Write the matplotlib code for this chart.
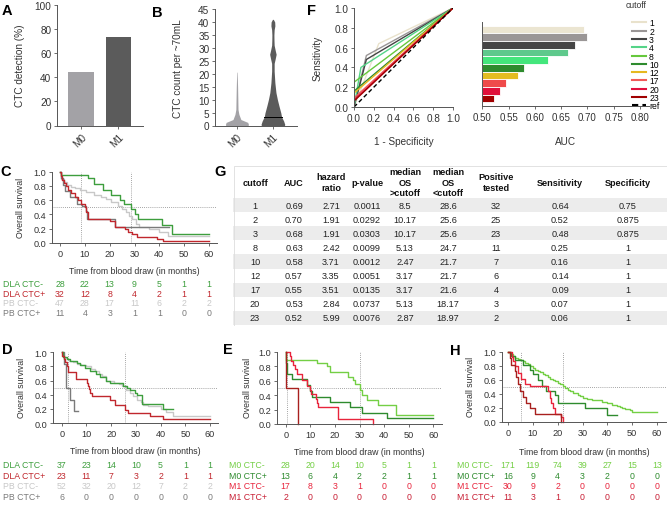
import numpy as np
import matplotlib
matplotlib.use('Agg')
import matplotlib.pyplot as plt
from matplotlib import transforms
from matplotlib.lines import Line2D

plt.rcParams['font.family'] = ['Liberation Sans', 'DejaVu Sans']
plt.rcParams['font.size'] = 6.2

## data
groups = ['M0', 'M1']
detect_pct = [44.4, 73.7]

# violin profiles (count level, half width)
m0_levels = [0, 0.4, 1.2, 2.3, 4.3, 6.2, 10, 15, 20.6]
m0_half = [0.31, 0.32, 0.30, 0.11, 0.055, 0.03, 0.025, 0.018, 0.006]
m1_levels = [0, 0.4, 1.7, 3.4, 4.9, 7.5, 10, 12.7, 16.5, 21, 24, 25.5, 27.5, 29, 31, 33, 35, 37, 38.5, 40, 41]
m1_half = [0.32, 0.33, 0.30, 0.24, 0.22, 0.17, 0.125, 0.085, 0.055, 0.035, 0.035, 0.06, 0.09, 0.065, 0.035, 0.03, 0.028, 0.035, 0.055, 0.05, 0.012]
m1_median = 3.4

cutoffs = ['1', '2', '3', '4', '8', '10', '12', '17', '20', '23']
sens = [0.64, 0.52, 0.48, 0.40, 0.25, 0.16, 0.14, 0.09, 0.07, 0.06]
spec = [0.75, 0.875, 0.875, 0.93, 1, 1, 1, 1, 1, 1]
auc = [0.693, 0.700, 0.677, 0.663, 0.625, 0.580, 0.568, 0.546, 0.534, 0.523]
roc_colors = ['#e9e2cc', '#9a9696', '#444444', '#55d488', '#66c83c', '#2e8b2e',
              '#e6b820', '#f05a5a', '#e0103c', '#a00000']
bar_colors = ['#ebe5d1', '#9a9696', '#454545', '#5ec98c', '#44e67c', '#2e8b2e',
              '#e3bc22', '#ef4a4a', '#e0103a', '#a00000']

tbl_head = ['cutoff', 'AUC', 'hazard\nratio', 'p-value', 'median\nOS\n>cutoff',
            'median\nOS\n<cutoff', 'Positive\ntested', 'Sensitivity', 'Specificity']
tbl_cutoff = ['1', '2', '3', '8', '10', '12', '17', '20', '23']
tbl_auc = ['0.69', '0.70', '0.68', '0.63', '0.58', '0.57', '0.55', '0.53', '0.52']
tbl_hr = ['2.71', '1.91', '1.91', '2.42', '3.71', '3.35', '3.51', '2.84', '5.99']
tbl_p = ['0.0011', '0.0292', '0.0303', '0.0099', '0.0012', '0.0051', '0.0135', '0.0737', '0.0076']
tbl_os_gt = ['8.5', '10.17', '10.17', '5.13', '2.47', '3.17', '3.17', '5.13', '2.87']
tbl_os_lt = ['28.6', '25.6', '25.6', '24.7', '21.7', '21.7', '21.6', '18.17', '18.97']
tbl_pos = ['32', '25', '23', '11', '7', '6', '4', '3', '2']
tbl_sens = ['0.64', '0.52', '0.48', '0.25', '0.16', '0.14', '0.09', '0.07', '0.06']
tbl_spec = ['0.75', '0.875', '0.875', '1', '1', '1', '1', '1', '1']

# Kaplan-Meier curves (time in months, survival)
c_dla_neg_t = [0, 0.5, 11.4, 13.7, 17.2, 20.5, 24, 25.8, 28.6, 30.2, 31.5, 41, 45, 60]
c_dla_neg_s = [1.0, 0.96, 0.91, 0.83, 0.75, 0.68, 0.61, 0.54, 0.47, 0.40, 0.33, 0.25, 0.13, 0.13]
c_dla_pos_t = [0, 0.3, 0.8, 1.5, 2.3, 3.3, 4.5, 6, 7.3, 8.5, 10, 10.5, 11.2, 20, 22, 26, 27.5, 29, 31, 39, 41.6, 60]
c_dla_pos_s = [1, 0.94, 0.88, 0.84, 0.80, 0.75, 0.70, 0.65, 0.60, 0.55, 0.50, 0.44, 0.34, 0.31, 0.22, 0.19, 0.16, 0.12, 0.09, 0.06, 0.03, 0.03]
c_pb_neg_t = [0, 0.5, 1.5, 3, 4.5, 6, 8, 10.5, 13.5, 16.5, 18.5, 20.5, 23.5, 25, 26.5, 27.8, 29, 30.5, 32, 36, 40, 43.5, 60]
c_pb_neg_s = [1, 0.9, 0.86, 0.82, 0.79, 0.77, 0.74, 0.72, 0.68, 0.65, 0.62, 0.57, 0.52, 0.48, 0.44, 0.38, 0.33, 0.27, 0.22, 0.2, 0.16, 0.1, 0.1]
c_pb_pos_t = [0, 0.6, 1.3, 2.2, 4, 6.7, 8.7, 10.3, 11, 22, 44]
c_pb_pos_s = [1, 0.91, 0.82, 0.73, 0.64, 0.55, 0.52, 0.45, 0.34, 0.22, 0.22]

d_dla_neg_t = [0, 0.7, 2, 3.4, 6, 7.4, 9.4, 11.5, 14, 15.5, 18, 19.5, 25, 26.3, 27.6, 29.6, 30.3, 32.3, 41, 45]
d_dla_neg_s = [1, 0.94, 0.91, 0.88, 0.85, 0.82, 0.78, 0.74, 0.70, 0.65, 0.60, 0.57, 0.52, 0.49, 0.47, 0.43, 0.40, 0.27, 0.20, 0.20]
d_dla_pos_t = [0, 0.3, 0.8, 1.5, 2.2, 2.7, 5.8, 10.2, 10.6, 11, 11.5, 12.1, 19.5, 21.6, 25.6, 27, 35.7, 41, 60]
d_dla_pos_s = [1, 0.95, 0.9, 0.86, 0.81, 0.72, 0.62, 0.57, 0.52, 0.48, 0.43, 0.38, 0.33, 0.25, 0.19, 0.14, 0.10, 0.05, 0.05]
d_pb_neg_t = [0, 0.5, 1, 2, 3, 4.5, 6, 8, 10, 12, 13.5, 15, 16.5, 18, 21, 23, 24.5, 26, 27.5, 29, 30.5, 32, 33, 35, 40, 42, 45, 60]
d_pb_neg_s = [1, 0.96, 0.92, 0.9, 0.88, 0.86, 0.84, 0.82, 0.80, 0.77, 0.74, 0.70, 0.66, 0.6, 0.57, 0.55, 0.52, 0.46, 0.42, 0.38, 0.33, 0.30, 0.26, 0.24, 0.2, 0.15, 0.1, 0.1]
d_pb_pos_t = [0, 1, 1.7, 3.4, 5, 6.7]
d_pb_pos_s = [1, 0.83, 0.5, 0.33, 0.17, 0.17]

e_m0_neg_t = [0, 0.3, 12.9, 16.7, 18, 25.5, 27.5, 28.2, 30, 30.9, 32.9, 37.7, 45, 60]
e_m0_neg_s = [1, 0.89, 0.85, 0.81, 0.72, 0.65, 0.61, 0.55, 0.47, 0.40, 0.33, 0.27, 0.13, 0.13]
e_m0_pos_t = [0, 0.2, 0.7, 2.4, 8.5, 9.9, 10.6, 18, 26.2, 30.9, 41, 60]
e_m0_pos_s = [1, 0.85, 0.69, 0.62, 0.54, 0.46, 0.38, 0.31, 0.23, 0.15, 0.08, 0.08]
e_m1_neg_t = [0, 1.8, 2.2, 3, 3.9, 4.5, 6.5, 8.5, 9.9, 10.3, 12.3, 12.6, 13.3, 21.4, 35.6]
e_m1_neg_s = [1, 0.94, 0.88, 0.82, 0.76, 0.70, 0.61, 0.53, 0.47, 0.41, 0.35, 0.29, 0.24, 0.07, 0.0]
e_m1_pos_t = [0, 0.2, 4.9]
e_m1_pos_s = [1, 0.5, 0.0]

h_m0_neg_t = [0, 1, 2, 3, 4, 5, 6, 7, 8, 9, 10, 11, 12, 13, 14, 15, 16, 17, 18, 19, 20, 21, 22, 23, 24,
              25, 26, 27, 28, 29, 30, 32, 34, 36, 38, 40, 42, 44, 45, 46, 47, 48, 49, 50, 60]
h_m0_neg_s = [1, 0.97, 0.94, 0.92, 0.90, 0.89, 0.87, 0.85, 0.83, 0.80, 0.77, 0.75, 0.73, 0.71, 0.69, 0.67, 0.64,
              0.62, 0.60, 0.58, 0.56, 0.54, 0.51, 0.49, 0.46, 0.44, 0.42, 0.41, 0.39, 0.37, 0.35, 0.33, 0.32,
              0.31, 0.29, 0.27, 0.25, 0.23, 0.21, 0.20, 0.19, 0.18, 0.17, 0.15, 0.15]
h_m0_pos_t = [0, 1.3, 2.7, 6, 8.7, 10, 12.1, 13.5, 15.5, 18.8, 20.2, 31, 39.7, 43.7]
h_m0_pos_s = [1, 0.94, 0.88, 0.81, 0.75, 0.69, 0.60, 0.52, 0.45, 0.38, 0.27, 0.20, 0.10, 0.10]
h_m1_neg_t = [0, 1.7, 2, 2.7, 4, 5.4, 6.7, 8.7, 16.2, 16.8, 17.5, 18.2, 18.8, 21.5, 22.2]
h_m1_neg_s = [1, 0.93, 0.87, 0.80, 0.70, 0.62, 0.55, 0.52, 0.45, 0.35, 0.27, 0.20, 0.12, 0.07, 0.0]
h_m1_pos_t = [0, 0.7, 1.3, 2.7, 3.4, 4.0, 4.7, 6.0, 7.4, 9, 10.8, 21.5]
h_m1_pos_s = [1, 0.91, 0.82, 0.73, 0.64, 0.55, 0.45, 0.36, 0.27, 0.2, 0.11, 0.0]

# numbers at risk at 0,10,...,60 months
c_risk = {'DLA CTC-': [28, 22, 13, 9, 5, 1, 1], 'DLA CTC+': [32, 12, 8, 4, 2, 1, 1],
          'PB CTC-': [47, 28, 17, 11, 6, 2, 2], 'PB CTC+': [11, 4, 3, 1, 1, 0, 0]}
d_risk = {'DLA CTC-': [37, 23, 14, 10, 5, 1, 1], 'DLA CTC+': [23, 11, 7, 3, 2, 1, 1],
          'PB CTC-': [52, 32, 20, 12, 7, 2, 2], 'PB CTC+': [6, 0, 0, 0, 0, 0, 0]}
e_risk = {'M0 CTC-': [28, 20, 14, 10, 5, 1, 1], 'M0 CTC+': [13, 6, 4, 2, 2, 1, 1],
          'M1 CTC-': [17, 8, 3, 1, 0, 0, 0], 'M1 CTC+': [2, 0, 0, 0, 0, 0, 0]}
h_risk = {'M0 CTC-': [171, 119, 74, 39, 27, 15, 13], 'M0 CTC+': [16, 9, 4, 3, 2, 0, 0],
          'M1 CTC-': [30, 9, 2, 0, 0, 0, 0], 'M1 CTC+': [11, 3, 1, 0, 0, 0, 0]}

G_NEG, G_POS, L_GREY, D_GREY = '#3d9e3d', '#c0272d', '#c8c8c8', '#7a7a7a'
M0N, M0P, M1N, M1P = '#74cf45', '#2e8b2e', '#e8243c', '#a8201e'

W, H = 669, 506
fig = plt.figure(figsize=(W / 100, H / 100), dpi=100)

def fx(x):
    return x / W

def fy(y):
    return 1 - y / H

def px_ax(l, t, r, b):
    return fig.add_axes([fx(l), fy(b), (r - l) / W, (b - t) / H])

SP = '#555555'
TXT = '#333333'

def style(ax, size=6.6):
    for s in ['top', 'right']:
        ax.spines[s].set_visible(False)
    for s in ['left', 'bottom']:
        ax.spines[s].set_color(SP)
        ax.spines[s].set_linewidth(0.7)
    ax.tick_params(length=2.5, width=0.6, color=SP, labelcolor=TXT, labelsize=size, pad=1.5)

def panel_letter(x, y, s):
    fig.text(fx(x), fy(y), s, fontsize=10.5, fontweight='bold', ha='center', va='center')

## A
axA = px_ax(57, 6, 143, 126.5)
style(axA, 7.2)
axA.bar([0, 1], detect_pct, width=0.68, color=['#a3a2a6', '#5b5b5b'])
axA.set_xlim(-0.65, 1.67)
axA.set_ylim(0, 100)
axA.set_yticks(range(0, 101, 20))
axA.set_xticks([0, 1])
axA.set_xticklabels(groups, rotation=45, ha='right', rotation_mode='anchor')
axA.set_ylabel('CTC detection (%)', color=TXT, fontsize=7.2)
axA.yaxis.set_label_coords((25 - 57) / 86, 0.5)
panel_letter(7, 11, 'A')

## B
axB = px_ax(215, 10, 297, 126.5)
style(axB, 7.2)
axB.fill_betweenx(m0_levels, 0 - np.array(m0_half), 0 + np.array(m0_half), color='#a3a2a6', lw=0)
axB.fill_betweenx(m1_levels, 1 - np.array(m1_half), 1 + np.array(m1_half), color='#5b5b5b', lw=0)
axB.plot([1 - 0.24, 1 + 0.24], [m1_median, m1_median], color='black', lw=0.7)
axB.set_xlim(-0.61, 1.67)
axB.set_ylim(0, 45)
axB.set_yticks(range(0, 46, 5))
axB.set_xticks([0, 1])
axB.set_xticklabels(groups, rotation=45, ha='right', rotation_mode='anchor')
axB.set_ylabel('CTC count per ~70mL', color=TXT, fontsize=7.2)
axB.yaxis.set_label_coords((183 - 215) / 82, 0.5)
panel_letter(157, 13, 'B')

## KM panels
def km_panel(x0, x60, y1, y0, xl, xr, curves, vlines, risk, risk_colors, risk_rows, label_x, ylabel_x, xlabel_y):
    ppm = (x60 - x0) / 60
    l = x0 + xl * ppm
    r = x0 + xr * ppm
    top = y0 - 1.02 * (y0 - y1)
    ax = px_ax(l, top, r, y0)
    style(ax)
    ax.set_xlim(xl, xr)
    ax.set_ylim(0, 1.02)
    ax.spines['left'].set_bounds(0, 1)
    ax.set_xticks(range(0, 61, 10))
    ax.set_yticks(np.arange(0, 1.01, 0.2))
    ax.set_yticklabels(['%.1f' % v for v in np.arange(0, 1.01, 0.2)])
    ax.axhline(0.5, color='#888888', lw=0.6, ls=(0, (1, 1.5)))
    for v in vlines:
        ax.plot([v, v], [0, 1], color='#888888', lw=0.6, ls=(0, (1, 1.5)))
    for t, s, c in curves:
        ax.step(t, s, where='post', color=c, lw=1.0, clip_on=False)
    ax.set_xlabel('Time from blood draw (in months)', color=TXT, fontsize=6.3)
    ax.xaxis.set_label_coords(0.5, (y0 - xlabel_y) / (y0 - top))
    ax.set_ylabel('Overall survival', color=TXT, fontsize=6.3)
    ax.yaxis.set_label_coords((ylabel_x - l) / (r - l), 0.5)
    tr = transforms.blended_transform_factory(ax.transData, fig.transFigure)
    for (name, vals), c, ry in zip(risk.items(), risk_colors, risk_rows):
        fig.text(fx(label_x), fy(ry), name, color=c, fontsize=6.3, va='center', ha='left')
        for k, v in enumerate(vals):
            ax.text(k * 10, fy(ry), str(v), transform=tr, color=c, fontsize=6.3,
                    ha='center', va='center', clip_on=False)
    return ax

km_panel(60, 209, 172.7, 244, -3.2, 63.2,
         [(c_pb_neg_t, c_pb_neg_s, L_GREY), (c_pb_pos_t, c_pb_pos_s, D_GREY),
          (c_dla_neg_t, c_dla_neg_s, G_NEG), (c_dla_pos_t, c_dla_pos_s, G_POS)],
         [8.5, 28.6], c_risk, [G_NEG, G_POS, L_GREY, D_GREY], [285, 294.5, 304, 313.5],
         3, 25, 266.7)
panel_letter(6, 172, 'C')

km_panel(61.7, 210, 353.3, 424, -3.6, 63.3,
         [(d_pb_neg_t, d_pb_neg_s, L_GREY), (d_pb_pos_t, d_pb_pos_s, D_GREY),
          (d_dla_neg_t, d_dla_neg_s, G_NEG), (d_dla_pos_t, d_dla_pos_s, G_POS)],
         [2.6, 25.6], d_risk, [G_NEG, G_POS, L_GREY, D_GREY], [466, 476.5, 487, 497.5],
         3, 26, 447.3)
panel_letter(7, 350, 'D')

km_panel(285.7, 433.3, 353, 425, -3.5, 63.5,
         [(e_m0_neg_t, e_m0_neg_s, M0N), (e_m0_pos_t, e_m0_pos_s, M0P),
          (e_m1_neg_t, e_m1_neg_s, M1N), (e_m1_pos_t, e_m1_pos_s, M1P)],
         [0.4, 30], e_risk, [M0N, M0P, M1N, '#c81e34'], [466, 476.5, 487, 497.5],
         229, 251.7, 448)
panel_letter(228, 350, 'E')

km_panel(508, 657, 353, 423, -2.4, 63.6,
         [(h_m0_neg_t, h_m0_neg_s, M0N), (h_m0_pos_t, h_m0_pos_s, M0P),
          (h_m1_neg_t, h_m1_neg_s, M1N), (h_m1_pos_t, h_m1_pos_s, M1P)],
         [5.13, 22], h_risk, [M0N, M0P, M1N, '#c81e34'], [466, 476.5, 487, 497.5],
         457, 475, 448)
panel_letter(455, 351, 'H')

## F: ROC
axF = px_ax(354, 9, 453, 108)
style(axF, 7.2)
handles = []
for i, cut in enumerate(cutoffs):
    axF.plot([0, 1 - spec[i], 1], [0, sens[i], 1], color=roc_colors[i], lw=1.0)
    handles.append(Line2D([], [], color=roc_colors[i], lw=1.5))
axF.plot([0, 1], [0, 1], color='black', lw=1.0, ls=(0, (3, 2)))
handles.append(Line2D([], [], color='black', lw=1.5, ls=(0, (3, 2))))
axF.set_xlim(0, 1)
axF.set_ylim(0, 1)
ticks = np.arange(0, 1.01, 0.2)
axF.set_xticks(ticks)
axF.set_yticks(ticks)
axF.set_xticklabels(['%.1f' % v for v in ticks])
axF.set_yticklabels(['%.1f' % v for v in ticks])
axF.set_xlabel('1 - Specificity', color=TXT, fontsize=7.2)
axF.xaxis.set_label_coords(0.5, (108 - 137) / 99)
axF.set_ylabel('Sensitivity', color=TXT, fontsize=7.2)
axF.yaxis.set_label_coords((323 - 354) / 99, 0.5)
panel_letter(311, 11, 'F')

axAUC = px_ax(482.3, 23, 649, 107)
style(axAUC, 7.0)
axAUC.barh(range(len(auc)), np.array(auc) - 0.5, left=0.5, height=1.0,
           color=bar_colors, edgecolor='white', lw=0.6)
axAUC.set_ylim(len(auc) - 0.5 + 0.48, -0.98)
axAUC.set_xlim(0.5, 0.817)
axAUC.set_yticks([])
axAUC.set_xticks(np.arange(0.5, 0.801, 0.05))
axAUC.set_xticklabels(['%.2f' % v for v in np.arange(0.5, 0.801, 0.05)])
axAUC.set_xlabel('AUC', color=TXT, fontsize=7.2)
axAUC.xaxis.set_label_coords(0.5, (107 - 137) / 84)

fig.text(fx(636), fy(5.5), 'cutoff', fontsize=6.2, ha='center', va='center', color=TXT)
fig.legend(handles, cutoffs + ['ref'], loc='upper left', bbox_to_anchor=(fx(628), fy(15)),
           frameon=False, fontsize=6.2, labelspacing=-0.08, handlelength=1.6,
           handletextpad=0.35, borderpad=0.0)

## G: table
axG = px_ax(233, 166, 667, 327)
axG.set_xlim(233, 667)
axG.set_ylim(327, 166)
axG.axis('off')
col_x = [255, 294, 331, 367, 405, 448, 496, 560, 628]
row_y0 = 199
row_h = 14.1
columns = [tbl_cutoff, tbl_auc, tbl_hr, tbl_p, tbl_os_gt, tbl_os_lt, tbl_pos, tbl_sens, tbl_spec]
for i in range(len(tbl_cutoff)):
    if i % 2 == 0:
        axG.axhspan(row_y0 + i * row_h, row_y0 + (i + 1) * row_h, color='#ececec', lw=0)
axG.add_patch(plt.Rectangle((234, 166.5), 432.5, 160, fill=False, ec='#dddddd', lw=0.6))
for x, head in zip(col_x, tbl_head):
    axG.text(x, 183, head, ha='center', va='center', fontsize=6.6, fontweight='bold',
             linespacing=1.25, color='#111111')
for x, col in zip(col_x, columns):
    for i, v in enumerate(col):
        axG.text(x, row_y0 + (i + 0.5) * row_h, v, ha='center', va='center', fontsize=6.6,
                 color='#222222')
panel_letter(220, 172, 'G')

fig.savefig('out.png', dpi=100)
